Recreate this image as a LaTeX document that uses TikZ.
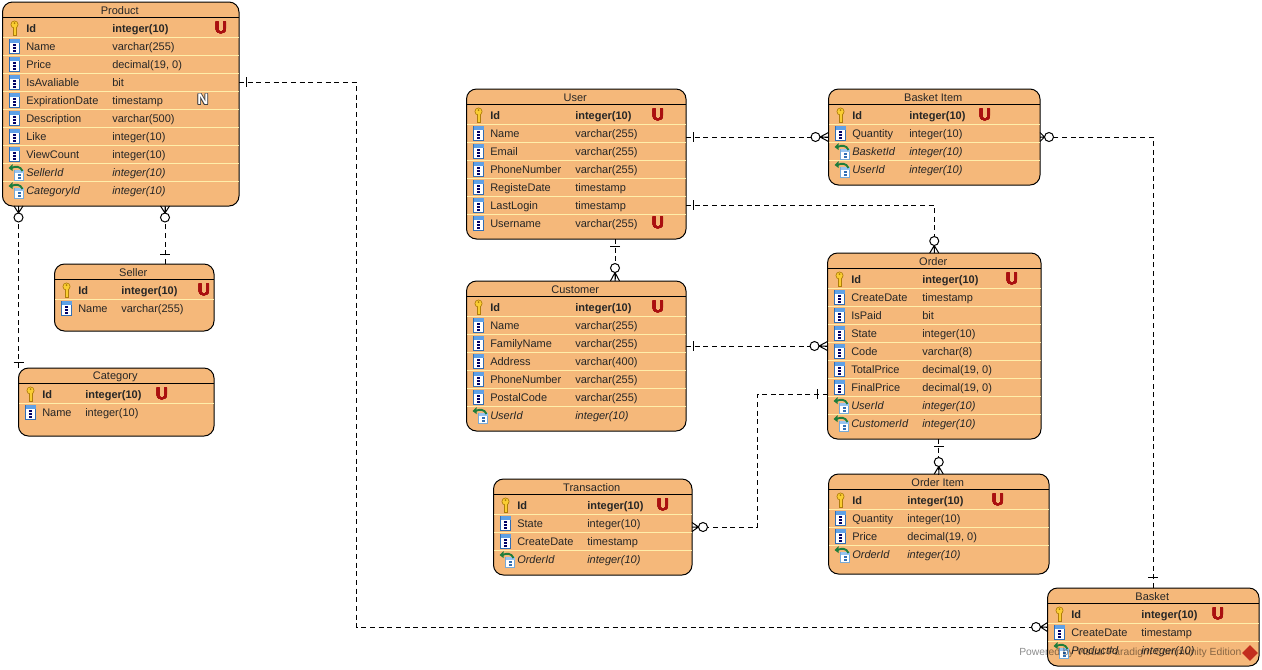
\documentclass[tikz,border=0pt]{standalone}
\usepackage{fontspec}
\setmainfont{Liberation Sans}
\usepackage{contour}
\usetikzlibrary{calc, fit, shapes.geometric, decorations.markings}
\contourlength{0.15pt}

\definecolor{boxfill}{RGB}{245,184,122}
\definecolor{rowline}{RGB}{255,238,170}
\definecolor{ubadge}{RGB}{170,16,16}
\definecolor{keygold}{RGB}{250,205,50}
\definecolor{keyedge}{RGB}{175,125,10}
\definecolor{coledge}{RGB}{50,110,180}
\definecolor{colband}{RGB}{95,160,230}
\definecolor{fkedge}{RGB}{120,170,215}
\definecolor{fkband}{RGB}{150,195,240}
\definecolor{fkarrow}{RGB}{30,125,60}

\tikzset{
  entitybox/.style={draw=black, fill=boxfill, rounded corners=7.5pt, line width=0.75pt, inner sep=0pt, outer sep=0pt},
  titletext/.style={font=\fontsize{8.25}{10}\selectfont, text=black!85, inner sep=0pt},
  rowtext/.style={font=\fontsize{8.25}{10}\selectfont, text=black!85, anchor=west, inner sep=0pt, text height=7pt, text depth=1pt},
  rowk/.style={font=\fontsize{8.25}{10}\selectfont\bfseries},
  rowc/.style={},
  rowf/.style={font=\fontsize{8.25}{10}\selectfont\itshape},
  ubadgetext/.style={font=\fontsize{12.5}{12}\selectfont\bfseries, text=ubadge, inner sep=0pt},
  nbadgetext/.style={font=\fontsize{11.5}{10}\selectfont\bfseries, text=white, inner sep=0pt},
  conn/.style={line width=0.75pt, dash pattern=on 3.75pt off 2.75pt},
  onebar/.style={postaction={decorate, decoration={markings, mark=at position #1*0.75pt with {\draw[solid, line width=0.75pt] (0,-5) -- (0,5);}}}},
  onebar/.default=7,
  zeromany/.style={postaction={decorate, decoration={markings, mark=at position -#1*0.75pt with {
    \draw[solid, line width=0.75pt, fill=white] (0,0) circle (4.5);
    \draw[solid, line width=0.75pt] (4.5,0) -- (#1,-4.5) (4.5,0) -- (#1,0) (4.5,0) -- (#1,4.5);}}}},
  zeromany/.default=13,
  pics/iconk/.style={code={
    \draw[draw=keyedge, fill=keygold, line width=0.5pt] (-1.5,-1) rectangle (1.5,7.5);
    \draw[draw=keyedge, fill=keygold, line width=0.5pt] (0,-3.5) circle (3.6);
    \fill[keyedge] (0,-4.8) circle (1);
    \fill[keygold] (-1,-1.5) rectangle (1,0.5);
  }},
  pics/iconc/.style={code={
    \draw[draw=coledge, fill=white, line width=0.75pt] (-5,-7) rectangle (5,7);
    \fill[colband] (-5,-7) rectangle (5,-3);
    \foreach \d in {-1,2,5} \fill[black!60!blue] (-1.5,\d-0.6) rectangle (1.5,\d+0.6);
  }},
  pics/iconf/.style={code={
    \draw[draw=fkedge, fill=white, line width=0.5pt] (0,-2) rectangle (9,8);
    \fill[fkband] (0,-2) rectangle (9,1);
    \foreach \d in {3,6} \fill[coledge] (3,\d-0.6) rectangle (6,\d+0.6);
    \draw[fkarrow, line width=1.4pt] (8,-1) .. controls (6,-6) and (1,-6) .. (-3,-4);
    \fill[fkarrow] (-6,-4) -- (-2,-8) -- (-2,-1) -- cycle;
  }},
}

% name, left, top, right, bottom, title, type column, rows
\newcommand{\entity}[8]{
  \node[entitybox, fit={(#2,#3) (#4,#5)}] (#1) {};
  \node[titletext] (#1-title) at ($(#1.north)+(-1,9)$) {#6};
  \draw[line width=0.75pt] (#2,#3+15.5) -- (#4,#3+15.5);
  \foreach \kind/\col/\typ [count=\i] in {#8} {
    \pgfmathsetmacro{\rowy}{#3+26+18*(\i-1)}
    \ifnum\i>1
      \draw[rowline, line width=0.75pt] (#2+0.5,\rowy-9) -- (#4-0.5,\rowy-9);
    \fi
    \pic at (#2+12,\rowy) {icon\kind};
    \node[rowtext, row\kind] (#1-\i) at (#2+23.5,\rowy) {\col};
    \node[rowtext, row\kind] (#1-\i-type) at (#7,\rowy) {\typ};
  }
}

\begin{document}
\begin{tikzpicture}[x=0.75pt, y=-0.75pt]
  \useasboundingbox (0,0) rectangle (1262,669);

  % Entities
  \entity{product}{2.5}{2}{239}{206}{Product}{112}{
    k/Id/integer(10), c/Name/varchar(255), c/Price/{decimal(19, 0)}, c/IsAvaliable/bit,
    c/ExpirationDate/timestamp, c/Description/varchar(500), c/Like/integer(10),
    c/ViewCount/integer(10), f/SellerId/integer(10), f/CategoryId/integer(10)}
  \entity{seller}{54.5}{264}{214}{331}{Seller}{121}{
    k/Id/integer(10), c/Name/varchar(255)}
  \entity{category}{18.5}{368}{214}{436}{Category}{85}{
    k/Id/integer(10), c/Name/integer(10)}
  \entity{user}{466.5}{89}{686}{239}{User}{575}{
    k/Id/integer(10), c/Name/varchar(255), c/Email/varchar(255), c/PhoneNumber/varchar(255),
    c/RegisteDate/timestamp, c/LastLogin/timestamp, c/Username/varchar(255)}
  \entity{customer}{466.5}{281}{686}{431}{Customer}{575}{
    k/Id/integer(10), c/Name/varchar(255), c/FamilyName/varchar(255), c/Address/varchar(400),
    c/PhoneNumber/varchar(255), c/PostalCode/varchar(255), f/UserId/integer(10)}
  \entity{basketitem}{828.5}{89}{1040}{185}{Basket Item}{909}{
    k/Id/integer(10), c/Quantity/integer(10), f/BasketId/integer(10), f/UserId/integer(10)}
  \entity{order}{827.5}{253}{1041}{439}{Order}{922}{
    k/Id/integer(10), c/CreateDate/timestamp, c/IsPaid/bit, c/State/integer(10), c/Code/varchar(8),
    c/TotalPrice/{decimal(19, 0)}, c/FinalPrice/{decimal(19, 0)}, f/UserId/integer(10),
    f/CustomerId/integer(10)}
  \entity{orderitem}{828.5}{474}{1049}{574}{Order Item}{907}{
    k/Id/integer(10), c/Quantity/integer(10), c/Price/{decimal(19, 0)}, f/OrderId/integer(10)}
  \entity{transaction}{493.5}{479}{692}{575}{Transaction}{587}{
    k/Id/integer(10), c/State/integer(10), c/CreateDate/timestamp, f/OrderId/integer(10)}
  \entity{basket}{1047.5}{588}{1259}{666}{Basket}{1141}{
    k/Id/integer(10), c/CreateDate/timestamp, f/ProductId/integer(10)}

  % Badges
  \node[ubadgetext] (product-u) at (221,28) {\contour{ubadge}{U}};
  \node[nbadgetext] (product-n) at (203,100) {\contourlength{0.5pt}\contour{black!75}{N}};
  \node[ubadgetext] (seller-u) at (204,290) {\contour{ubadge}{U}};
  \node[ubadgetext] (category-u) at (162,394) {\contour{ubadge}{U}};
  \node[ubadgetext] (user-u) at (658,115) {\contour{ubadge}{U}};
  \node[ubadgetext] (user-v) at (658,223) {\contour{ubadge}{U}};
  \node[ubadgetext] (customer-u) at (658,307) {\contour{ubadge}{U}};
  \node[ubadgetext] (basketitem-u) at (985,115) {\contour{ubadge}{U}};
  \node[ubadgetext] (order-u) at (1012,279) {\contour{ubadge}{U}};
  \node[ubadgetext] (orderitem-u) at (998,500) {\contour{ubadge}{U}};
  \node[ubadgetext] (transaction-u) at (663,505) {\contour{ubadge}{U}};
  \node[ubadgetext] (basket-u) at (1218,614) {\contour{ubadge}{U}};

  % Free ends and bends
  \coordinate (seller-port) at (165,264);
  \coordinate (customer-port) at (615,281);
  \coordinate (order-port) at (827.5,394);
  \coordinate (product-bend) at (356.5,300);
  \coordinate (order-bend) at (757.5,450);

  % Connectors
  \draw[conn, onebar, zeromany=11.5] (product-4 -| product.east) -- (product-4 -| product-bend)
    -- (basket.west -| product-bend) -- (basket.west);
  \draw[conn, onebar=6, zeromany=11.5] (category.north west) -- (category.north west |- product.south);
  \draw[conn, onebar=10, zeromany=11.5] (seller-port) -- (seller-port |- product.south);
  \draw[conn, onebar, zeromany] (customer-port |- user.south) -- (customer-port);
  \draw[conn, onebar, zeromany] (basketitem.west -| user.east) -- (basketitem.west);
  \draw[conn, onebar, zeromany=12] (user-6 -| user.east) -| (order.north);
  \draw[conn, onebar, zeromany] (order.west -| customer.east) -- (order.west);
  \draw[conn, onebar=10, zeromany=11] (order-port) -- (order-port -| order-bend)
    -- (transaction.east -| order-bend) -- (transaction.east);
  \draw[conn, onebar, zeromany=12] (orderitem.north |- order.south) -- (orderitem.north);
  \draw[conn, onebar=11, zeromany=9] (basket.north) |- (basketitem.east);

  % Watermark
  \node[font=\fontsize{7.75}{10}\selectfont, text=black, opacity=0.45, anchor=west, inner sep=0pt] (watermark) at (1019,653) {Powered by Visual Paradigm Community Edition};
  \node[diamond, fill=red!70!black, opacity=0.75, minimum width=12pt, minimum height=12pt, inner sep=0pt] (logo) at (1250,653) {};
\end{tikzpicture}
\end{document}
